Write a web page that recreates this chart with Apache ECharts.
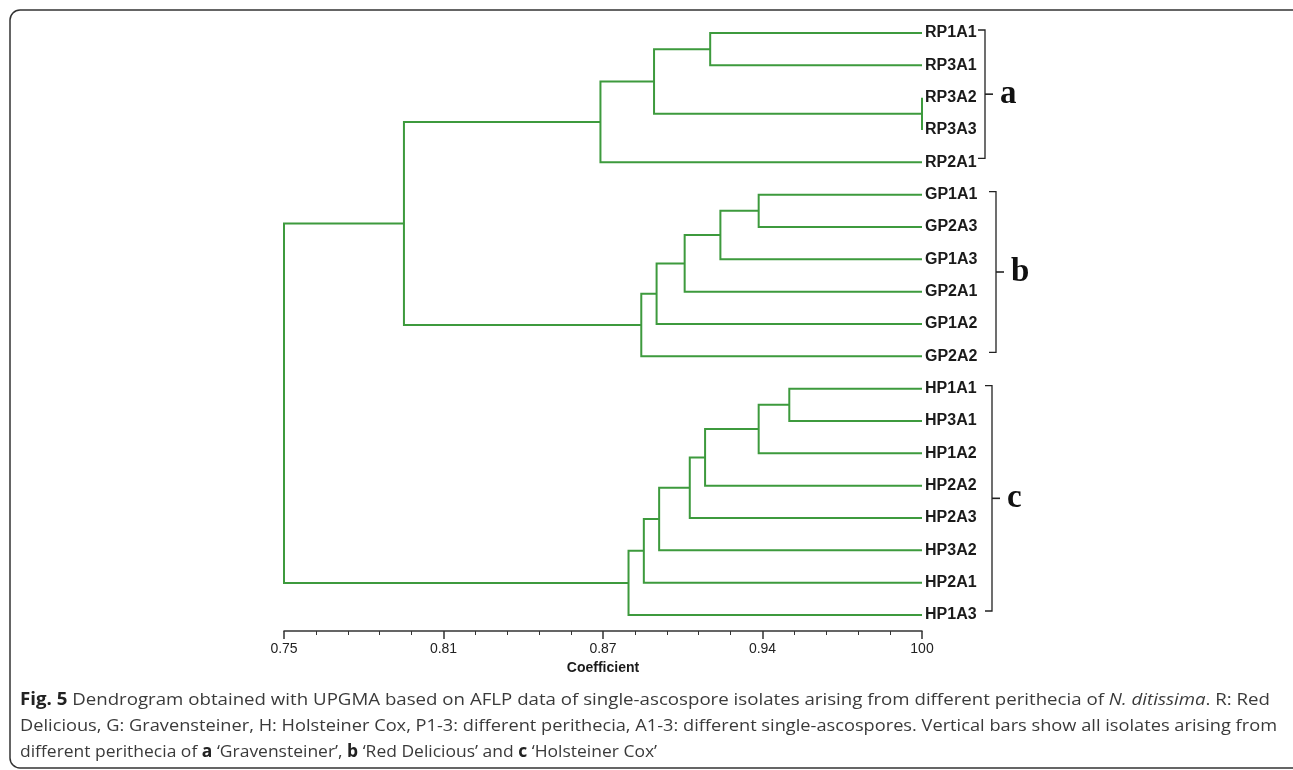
<!DOCTYPE html>
<html>
<head>
<meta charset="utf-8">
<title>Dendrogram</title>
<script src="https://cdn.jsdelivr.net/npm/echarts@6/dist/echarts.min.js"></script>
<style>
   html, body { margin: 0; padding: 0; background: #fff; }
   #chart { width: 1293px; height: 770px; }
</style>
</head>
<body>
<div id="chart"></div>
<script>
   // leaves, top to bottom
   var leaves = ['RP1A1', 'RP3A1', 'RP3A2', 'RP3A3', 'RP2A1',
      'GP1A1', 'GP2A3', 'GP1A3', 'GP2A1', 'GP1A2', 'GP2A2',
      'HP1A1', 'HP3A1', 'HP1A2', 'HP2A2', 'HP2A3', 'HP3A2', 'HP2A1', 'HP1A3'];
   // merges: node ids 0..18 are leaves, merge k makes node 19+k
   var mergePairs = [
      [0, 1], [2, 3], [19, 20], [21, 4],
      [5, 6], [23, 7], [24, 8], [25, 9], [26, 10],
      [22, 27],
      [11, 12], [29, 13], [30, 14], [31, 15], [32, 16], [33, 17], [34, 18],
      [28, 35]
   ];
   var mergeHeights = [0.917, 1.0, 0.895, 0.874,
      0.936, 0.921, 0.907, 0.896, 0.890,
      0.797,
      0.948, 0.936, 0.915, 0.909, 0.897, 0.891, 0.885,
      0.75];
   var tickLabels = ['0.75', '0.81', '0.87', '0.94', '100'];
   // groups shown with brackets
   var groupLetters = ['a', 'b', 'c'];
   var groupFirst = [0, 5, 11];
   var groupLast = [4, 10, 18];

   var nodeX = [], nodeY = [];
   leaves.forEach(function(name, i){
      nodeX.push(1.0);
      nodeY.push(i);
   });
   var links = [];
   mergePairs.forEach(function(p, k){
      var h = mergeHeights[k];
      links.push([nodeX[p[0]], nodeY[p[0]], h, nodeY[p[1]], nodeX[p[1]]]);
      nodeX.push(h);
      nodeY.push((nodeY[p[0]] + nodeY[p[1]]) / 2);
   });

   var myChart = echarts.init(document.getElementById('chart'));
   var option = {
      animation: false,
      grid: { left: 284, top: 33, width: 638, height: 582 },
      xAxis: {
         type: 'value',
         min: 0.75,
         max: 1.0,
         interval: 0.0625,
         offset: 16,
         name: 'Coefficient',
         nameLocation: 'middle',
         nameGap: 21,
         nameTextStyle: { fontFamily: 'Liberation Sans', fontWeight: 'bold', fontSize: 14, color: '#1a1a1a' },
         axisLine: { show: true, onZero: false, lineStyle: { color: '#333', width: 1.5 } },
         axisTick: { show: true, length: 8, lineStyle: { color: '#333', width: 1.5 } },
         minorTick: { show: true, splitNumber: 5, length: 4, lineStyle: { color: '#333', width: 1 } },
         splitLine: { show: false },
         axisLabel: {
            margin: 11,
            fontFamily: 'Liberation Sans',
            fontSize: 14,
            color: '#222',
            formatter: function(v){
               return tickLabels[Math.round((v - 0.75) / 0.0625)];
            }
         }
      },
      yAxis: {
         type: 'value',
         min: 0,
         max: 18,
         interval: 1,
         inverse: true,
         position: 'right',
         axisLine: { show: false },
         axisTick: { show: false },
         splitLine: { show: false },
         axisLabel: {
            margin: 3,
            fontFamily: 'Liberation Sans',
            fontWeight: 'bold',
            fontSize: 16,
            color: '#1a1a1a',
            padding: [3, 0, 0, 0],
            formatter: function(v){ return leaves[v] || ''; }
         }
      },
      series: [{
         type: 'custom',
         data: links,
         renderItem: function(params, api){
            var a = api.coord([api.value(0), api.value(1)]);
            var b = api.coord([api.value(2), api.value(1)]);
            var c = api.coord([api.value(2), api.value(3)]);
            var d = api.coord([api.value(4), api.value(3)]);
            return {
               type: 'polyline',
               shape: { points: [a, b, c, d] },
               style: { stroke: '#3d9a3d', lineWidth: 2, fill: null }
            };
         }
      }]
   };
   myChart.setOption(option);

   // brackets, letters, caption and frame
   var bracketX = [985, 996, 992];
   var graphics = [{
      type: 'rect',
      shape: { x: 10, y: 10, width: 1292, height: 758, r: 10 },
      style: { fill: null, stroke: '#333', lineWidth: 1.5 }
   }];
   groupLetters.forEach(function(letter, i){
      var x = bracketX[i];
      var y1 = myChart.convertToPixel({ yAxisIndex: 0 }, groupFirst[i]) - 3;
      var y2 = myChart.convertToPixel({ yAxisIndex: 0 }, groupLast[i]) - 4;
      var ym = (y1 + y2) / 2;
      graphics.push({
         type: 'polyline',
         shape: { points: [[x - 7, y1], [x, y1], [x, y2], [x - 7, y2]] },
         style: { stroke: '#222', lineWidth: 1.3, fill: null }
      });
      graphics.push({
         type: 'line',
         shape: { x1: x, y1: ym, x2: x + 8, y2: ym },
         style: { stroke: '#222', lineWidth: 1.6 }
      });
      graphics.push({
         type: 'text',
         x: x + 15,
         y: ym,
         style: {
            text: letter,
            fontFamily: 'Liberation Serif',
            fontWeight: 'bold',
            fontSize: 33,
            fill: '#111',
            verticalAlign: 'middle'
         }
      });
   });
   var captionLines = [
      '{b|Fig. 5} Dendrogram obtained with UPGMA based on AFLP data of single-ascospore isolates arising from different perithecia of {i|N. ditissima}. R: Red',
      'Delicious, G: Gravensteiner, H: Holsteiner Cox, P1-3: different perithecia, A1-3: different single-ascospores. Vertical bars show all isolates arising from',
      'different perithecia of {b|a} \u2018Gravensteiner\u2019, {b|b} \u2018Red Delicious\u2019 and {b|c} \u2018Holsteiner Cox\u2019'
   ];
   var captionWidths = [1250, 1257, 637];
   var capSize = 17;
   var ctx = document.createElement('canvas').getContext('2d');
   function lineWidth(line){
      var w = 0, re = /\{(\w)\|([^}]*)\}|([^{]+)/g, m;
      while ((m = re.exec(line))) {
         if (m[3]) {
            ctx.font = capSize + 'px "Open Sans"';
            w += ctx.measureText(m[3]).width;
         } else {
            ctx.font = (m[1] === 'b' ? 'bold ' : 'italic ') + capSize + 'px "Open Sans"';
            w += ctx.measureText(m[2]).width;
         }
      }
      return w;
   }
   captionLines.forEach(function(line, i){
      graphics.push({
         type: 'text',
         x: 20,
         y: 700 + i * 26,
         scaleX: captionWidths[i] / lineWidth(line),
         style: {
            text: line,
            fontFamily: 'Open Sans',
            fontSize: capSize,
            fill: '#3a3a3a',
            verticalAlign: 'middle',
            rich: {
               b: { fontFamily: 'Open Sans', fontSize: capSize, fontWeight: 'bold', fill: '#222' },
               i: { fontFamily: 'Open Sans', fontSize: capSize, fontStyle: 'italic', fill: '#3a3a3a' }
            }
         }
      });
   });
   myChart.setOption({ graphic: graphics });
</script>
</body>
</html>
